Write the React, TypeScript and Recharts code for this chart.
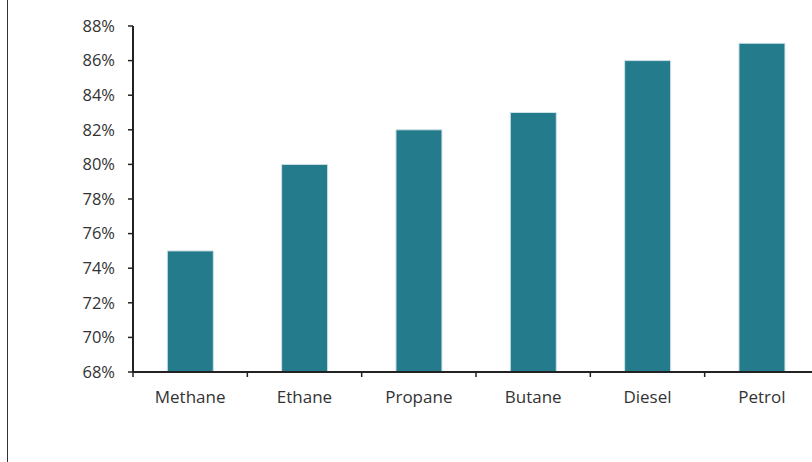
import { BarChart, Bar, XAxis, YAxis } from 'recharts';

const fuels = ['Methane', 'Ethane', 'Propane', 'Butane', 'Diesel', 'Petrol'];
const shares = [75, 80, 82, 83, 86, 87];
const yTicks = [68, 70, 72, 74, 76, 78, 80, 82, 84, 86, 88];

const chartData = fuels.map((fuel, i) => ({ fuel, share: shares[i] }));

const FONT = '"Open Sans", sans-serif';

const FuelTick = (props: any) => {
  const { x, y, payload, index } = props;
  const half = payload.offset || 0;
  return (
    <g>
      <line x1={x - half} x2={x - half} y1={y - 8} y2={y - 3} stroke="#222" strokeWidth={1.5} />
      {index === fuels.length - 1 && (
        <line x1={x + half} x2={x + half} y1={y - 8} y2={y - 3} stroke="#222" strokeWidth={1.5} />
      )}
      <text x={x} y={y + 23} textAnchor="middle" fill="#333" fontSize={17} fontFamily={FONT}>
        {payload.value}
      </text>
    </g>
  );
};

export default function App() {
  return (
    <div
      style={{
        position: 'fixed',
        left: 0,
        top: 0,
        width: 812,
        height: 462,
        overflow: 'hidden',
        background: '#fff',
      }}
    >
      <div
        style={{
          position: 'absolute',
          left: 7,
          top: 0,
          width: 0,
          height: 462,
          borderLeft: '1.5px solid #333',
        }}
      />
      <div style={{ position: 'absolute', left: 0, top: 0 }}>
        <BarChart
          width={825}
          height={462}
          data={chartData}
          margin={{ top: 26, right: 6, bottom: 60, left: 0 }}
          barCategoryGap="30%"
        >
          <XAxis
            dataKey="fuel"
            height={30}
            interval={0}
            tickLine={false}
            axisLine={{ stroke: '#222', strokeWidth: 2 }}
            tick={<FuelTick />}
          />
          <YAxis
            width={133}
            domain={[68, 88]}
            ticks={yTicks}
            interval={0}
            allowDataOverflow
            tickFormatter={(v) => `${v}%`}
            axisLine={{ stroke: '#222', strokeWidth: 2 }}
            tickLine={{ stroke: '#222', strokeWidth: 1.5 }}
            tickSize={5}
            tickMargin={13}
            tick={{ fill: '#333', fontSize: 16.5, fontFamily: FONT }}
          />
          <Bar
            dataKey="share"
            fill="#247B8C"
            stroke="#cfe2e6"
            strokeWidth={1}
            isAnimationActive={false}
          />
        </BarChart>
      </div>
    </div>
  );
}
